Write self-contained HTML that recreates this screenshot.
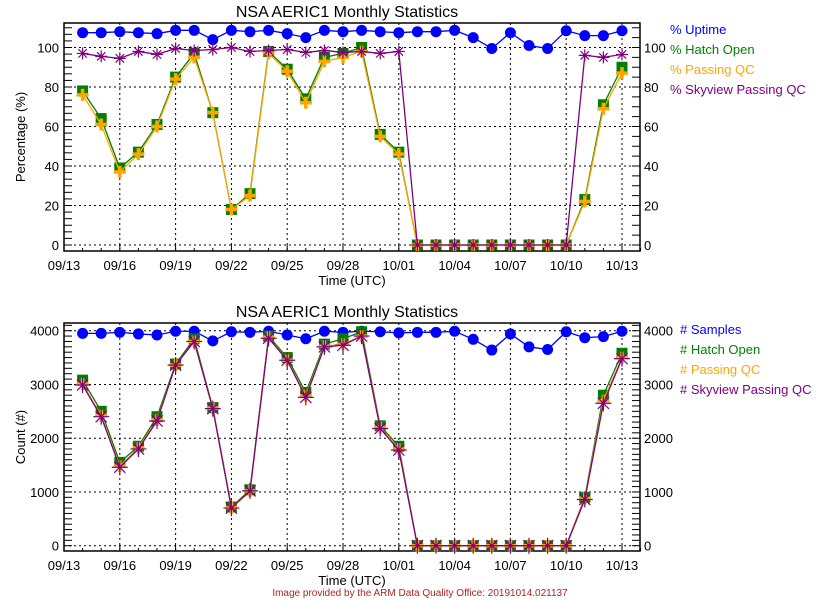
<!DOCTYPE html>
<html><head><meta charset="utf-8">
<style>
html,body{margin:0;padding:0;background:#fff;}
svg{display:block;font-family:"Liberation Sans",sans-serif;}
</style></head>
<body>
<svg id="chart" width="840" height="600" viewBox="0 0 840 600" xmlns="http://www.w3.org/2000/svg">
<rect width="840" height="600" fill="#fff"/>
<text x="420" y="596" font-size="10" fill="#b22222" text-anchor="middle">Image provided by the ARM Data Quality Office: 20191014.021137</text>
</svg>
<script>
// x positions: day index 1..30 (09/14 .. 10/13), 0 = 09/13
const dayIndex = [1,2,3,4,5,6,7,8,9,10,11,12,13,14,15,16,17,18,19,20,21,22,23,24,25,26,27,28,29,30];
const xTickLabels = ["09/13","09/16","09/19","09/22","09/25","09/28","10/01","10/04","10/07","10/10","10/13"];
const pctTicks = [0,20,40,60,80,100];
const cntTicks = [0,1000,2000,3000,4000];

const pctUptime = [107.5,107.5,108,107.5,107,108.7,108.7,104,108.7,108,108.7,107,105,108.7,108,108.7,108,107.5,108,108,108.7,105,99.5,107.5,101,99.5,108.5,106,106,108.5];
const pctHatch = [78,64,39,47,61,85,97,67,18,26,98,89,74,95,97,100,56,47,0,0,0,0,0,0,0,0,0,23,71,90];
const pctPassing = [76,61,37,46,60,84,95,67,18,25,97,88,72,93,95,98,55,46,0,0,0,0,0,0,0,0,0,22,69,87];
const pctSkyview = [97,95.5,94.5,98,96.5,99.5,98.5,99,100,98,98.5,99,97.5,98.5,97.5,98,97,98,0,0,0,0,0,0,0,0,0,96,95,96.5];

const cntSamples = [3950,3950,3970,3940,3920,3990,3990,3810,3980,3970,3990,3920,3850,3990,3970,3990,3980,3960,3970,3970,3990,3840,3640,3940,3700,3650,3980,3870,3890,3990];
const cntHatch = [3080,2500,1550,1850,2400,3380,3850,2570,720,1040,3900,3500,2850,3750,3850,3980,2230,1850,0,0,0,0,0,0,0,0,0,900,2800,3580];
const cntPassing = [3010,2420,1480,1820,2340,3360,3800,2560,710,1020,3880,3450,2790,3710,3750,3900,2200,1800,0,0,0,0,0,0,0,0,0,880,2700,3500];
const cntSkyview = [2990,2400,1460,1800,2320,3360,3800,2550,700,1020,3860,3450,2760,3700,3730,3900,2180,1780,0,0,0,0,0,0,0,0,0,860,2650,3480];

const NS="http://www.w3.org/2000/svg";
const svg=document.getElementById('chart');
function el(tag,attrs,parent){const e=document.createElementNS(NS,tag);for(const k in attrs)e.setAttribute(k,attrs[k]);(parent||svg).appendChild(e);return e;}

const X0=64, XR=640, DAY=18.6;
function xs(d){return X0+d*DAY;}

function panel(cfg){
  const g=el('g',{});
  
  
  const ys=v=>cfg.y0-(v-cfg.vmin)*cfg.scale;
  // title
  const t=el('text',{x:347,y:cfg.top-6,'font-size':16,'text-anchor':'middle',fill:'#000'},g);
  t.textContent='NSA AERIC1 Monthly Statistics';
  
  
  // grid
  cfg.ticks.forEach(v=>{
    const l=el('line',{x1:X0,x2:XR,y1:ys(v),y2:ys(v),stroke:'#000','stroke-dasharray':'2,3','stroke-width':1},g);
    
    
  });
  xTickLabels.forEach((lab,i)=>{
    const x=xs(i*3);
    if(i>0){
      const l=el('line',{x1:x,x2:x,y1:cfg.top,y2:cfg.bot,stroke:'#000','stroke-dasharray':'2,3'},g);
      
      
    }
    const tx=el('text',{x:x,y:cfg.bot+19,'font-size':13,'text-anchor':'middle'},g);
    tx.textContent=lab;
    
    
  });
  // minor x ticks
  for(let d=0;d<=31;d++){
    const x=xs(d);
    el('line',{x1:x,x2:x,y1:cfg.bot,y2:cfg.bot-(d%3==0?6:3),stroke:'#000'},g);
  }
  // y ticks left minor
  for(let v=cfg.vmin;v<=cfg.vmax;v+=cfg.minorL){
    const y=ys(v); if(y<cfg.top||y>cfg.bot) continue;
    el('line',{x1:X0,x2:X0+8,y1:y,y2:y,stroke:'#000'},g);
  }
  for(let v=cfg.vmin;v<=cfg.vmax;v+=cfg.minorR){
    const y=ys(v); if(y<cfg.top||y>cfg.bot) continue;
    el('line',{x1:XR-8,x2:XR,y1:y,y2:y,stroke:'#000'},g);
  }
  cfg.ticks.forEach(v=>{
    const a=el('text',{x:X0-5,y:ys(v)+5,'font-size':13,'text-anchor':'end'},g);
    a.textContent=v;
    
    
    const b=el('text',{x:XR+4,y:ys(v)+5,'font-size':13,'text-anchor':'start'},g);
    b.textContent=v;
    
    
  });
  // frame
  const fr=el('rect',{x:X0,y:cfg.top,width:XR-X0,height:cfg.bot-cfg.top,fill:'none',stroke:'#000','stroke-width':1.5},g);
  
  
  const yt=el('text',{x:0,y:0,'font-size':13,'text-anchor':'middle',transform:`translate(25,${(cfg.top+cfg.bot)/2}) rotate(-90)`},g);
  yt.textContent=cfg.ylabel;
  
  
  const xt=el('text',{x:352,y:cfg.bot+34,'font-size':13,'text-anchor':'middle'},g);
  xt.textContent='Time (UTC)';
  
  
  // series
  cfg.series.forEach((s,si)=>{
    const sg=el('g',{},g);
    
    
    const pts=s.vals.map((v,i)=>[xs(dayIndex[i]),ys(v)]);
    const pl=el('polyline',{points:pts.map(p=>p.join(',')).join(' '),fill:'none',stroke:s.color,'stroke-width':1.3},sg);
    
    
    pts.forEach(([x,y])=>{
      let m;
      if(s.marker==='circle') m=el('circle',{cx:x,cy:y,r:5.5,fill:s.color},sg);
      else if(s.marker==='square') m=el('rect',{x:x-5.5,y:y-5.5,width:11,height:11,fill:s.color},sg);
      else if(s.marker==='plus') m=el('path',{d:`M${x-6},${y}H${x+6}M${x},${y-6}V${y+6}`,stroke:s.color,'stroke-width':3.5},sg);
      else {const r=s.big?8:6;m=el('path',{d:`M${x-r},${y}H${x+r}M${x},${y-r}V${y+r}M${x-r*.7},${y-r*.7}L${x+r*.7},${y+r*.7}M${x-r*.7},${y+r*.7}L${x+r*.7},${y-r*.7}`,stroke:s.color,'stroke-width':1.2},sg);}
      
      
    });
    const lg=el('text',{x:cfg.legX,y:cfg.legY+si*20,'font-size':13,fill:s.color},g);
    lg.textContent=s.label;
    
    
  });
}

panel({name:'percentage-panel',top:23,bot:251,y0:245,vmin:0,vmax:112,scale:1.975,ticks:pctTicks,minorL:20/6,minorR:5,ylabel:'Percentage (%)',legX:670,legY:34,
  series:[
   {key:'hatch',vals:pctHatch,color:'#008000',marker:'square',label:'% Hatch Open'},
   {key:'passing',vals:pctPassing,color:'#ffa500',marker:'plus',label:'% Passing QC'},
   {key:'skyview',vals:pctSkyview,color:'#800080',marker:'star',label:'% Skyview Passing QC'},
   {key:'uptime',vals:pctUptime,color:'#0000ff',marker:'circle',label:'% Uptime'}
  ].sort((a,b)=>({uptime:0,hatch:1,passing:2,skyview:3}[a.key]-{uptime:0,hatch:1,passing:2,skyview:3}[b.key]))});

panel({name:'count-panel',top:323,bot:551,y0:545.7,vmin:0,vmax:4150,scale:0.05375,ticks:cntTicks,minorL:100,minorR:100,ylabel:'Count (#)',legX:680,legY:334,
  series:[
   {key:'samples',vals:cntSamples,color:'#0000ff',marker:'circle',label:'# Samples'},
   {key:'hatch-count',vals:cntHatch,color:'#008000',marker:'square',label:'# Hatch Open'},
   {key:'passing-count',vals:cntPassing,color:'#ffa500',marker:'plus',label:'# Passing QC'},
   {key:'skyview-count',vals:cntSkyview,color:'#800080',marker:'star',big:true,label:'# Skyview Passing QC'}
  ]});
</script>
</body></html>
